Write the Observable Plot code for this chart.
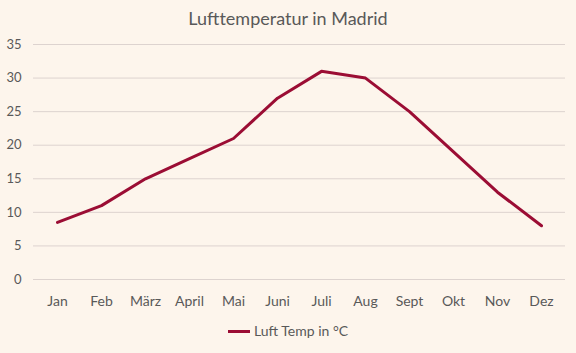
<!DOCTYPE html>
<html><head><meta charset="utf-8">
<script src="https://cdn.jsdelivr.net/npm/d3@7"></script>
<script src="https://cdn.jsdelivr.net/npm/@observablehq/plot@0.6"></script>
<style>
body{margin:0;background:#FDF5EC;font-family:Lato,"Open Sans",sans-serif;color:#595959;}
#wrap{width:576px;height:353px;background:#FDF5EC;position:relative;overflow:hidden}
#title{height:34px;line-height:36px;text-align:center;font-size:18px;color:#595959}
#legend{position:absolute;top:322px;left:0;width:576px;text-align:center;font-size:14px;color:#595959}
#legend .sw{display:inline-block;width:22px;height:3px;background:#9B0D34;vertical-align:middle;margin-right:4px;position:relative;top:-1px}
</style></head>
<body><div id="wrap"><div id="title">Lufttemperatur in Madrid</div><div id="chart"></div>
<div id="legend"><span class="sw"></span>Luft Temp in °C</div></div>
<script>
const months = ["Jan","Feb","März","April","Mai","Juni","Juli","Aug","Sept","Okt","Nov","Dez"];
const temps = [8.5, 11, 15, 18, 21, 27, 31, 30, 25, 19, 13, 8];
const yTicks = [0,5,10,15,20,25,30,35];
const seriesName = "Luft Temp in °C";

const data = months.map((m,i)=>({month:m, temp:temps[i]}));

const chart = Plot.plot({
  width: 576,
  height: 284,
  marginTop: 10,
  marginBottom: 39,
  marginLeft: 33,
  marginRight: 11,
  style: {background: "transparent", fontFamily: "Lato, 'Open Sans', sans-serif", fontSize: "13px", color: "#595959"},
  x: {type: "point", domain: months, padding: 0.5, align: 0.5, label: null},
  y: {domain: [0,35], ticks: yTicks, label: null},
  marks: [
    Plot.gridY(yTicks, {stroke: "#DDD3CF", strokeOpacity: 1, strokeWidth: 1}),
    Plot.axisY(yTicks, {tickSize: 0, tickPadding: 12, fontSize: 13, fill: "#595959", label: null}),
    Plot.axisX({tickSize: 0, tickPadding: 17, fontSize: 14, fill: "#595959", label: null}),
    Plot.line(data, {x: "month", y: "temp", stroke: "#9B0D34", strokeWidth: 3, strokeLinejoin: "round", strokeLinecap: "round"})
  ]
});
document.getElementById("chart").appendChild(chart);
</script></body></html>
